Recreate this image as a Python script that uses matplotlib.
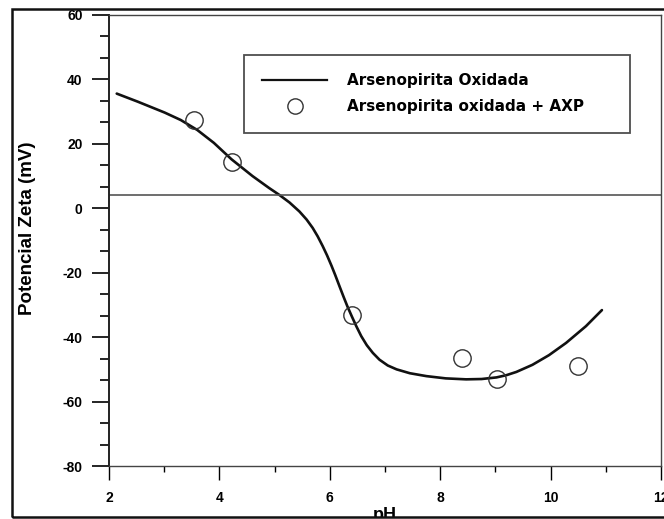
import numpy as np
import matplotlib.pyplot as plt
from matplotlib.lines import Line2D
from matplotlib.patches import Rectangle
from matplotlib.ticker import MultipleLocator

# fitted curve, arsenopirita oxidada (pH, mV)
ph_curve = [2.14, 2.52, 3.01, 3.3, 3.6, 3.9, 4.22, 4.6, 4.9, 5.09, 5.27, 5.45,
            5.58, 5.69, 5.78, 5.87, 5.95, 6.03, 6.1, 6.18, 6.25, 6.32, 6.4,
            6.48, 6.57, 6.67, 6.78, 6.9, 7.05, 7.21, 7.45, 7.75, 8.1, 8.47,
            8.75, 9.02, 9.2, 9.38, 9.67, 9.97, 10.28, 10.64, 10.93]
zeta_curve = [35.6, 33.1, 29.7, 27.4, 24.3, 20.3, 15.2, 10.0, 6.3, 4.1, 1.8, -1.0,
              -3.5, -6.1, -8.7, -11.7, -14.6, -17.8, -20.8, -24.4, -27.5, -30.5, -33.6,
              -36.6, -39.7, -42.5, -44.9, -47.0, -48.8, -50.0, -51.2, -52.1, -52.8, -53.1,
              -53.0, -52.5, -51.8, -50.8, -48.6, -45.6, -41.8, -36.6, -31.6]

# measured points, arsenopirita oxidada + AXP
ph_axp = [3.54, 4.22, 6.41, 8.40, 9.02, 10.5]
zeta_axp = [27.4, 14.4, -33.0, -46.6, -53.1, -49.1]

pzc_line = 4.0

lbl_curve = 'Arsenopirita Oxidada'
lbl_axp = 'Arsenopirita oxidada + AXP'

plt.rcParams['font.family'] = ['Liberation Sans', 'DejaVu Sans']
plt.rcParams['axes.unicode_minus'] = False

fig = plt.figure(figsize=(6.64, 5.19), dpi=100)
ax = fig.add_axes([109/664, 1 - 466/519, 552/664, 451/519])

ax.plot(ph_curve, zeta_curve, color='#111111', lw=1.9, solid_capstyle='round',
        solid_joinstyle='round')
ax.plot(ph_axp, zeta_axp, 'o', ms=12.5, mfc='none', mec='#333333', mew=1.0)
ax.axhline(pzc_line, color='#555555', lw=1.2)

ax.set_xlim(2, 12)
ax.set_ylim(-80, 60)
ax.xaxis.set_major_locator(MultipleLocator(2))
ax.xaxis.set_minor_locator(MultipleLocator(1))
ax.yaxis.set_major_locator(MultipleLocator(20))
ax.yaxis.set_minor_locator(MultipleLocator(20/3))

ax.tick_params(axis='y', which='major', length=12, width=1.2, pad=7, direction='out')
ax.tick_params(axis='y', which='minor', length=6.5, width=1.2, direction='out')
ax.tick_params(axis='x', which='major', length=10, width=1.0, pad=8, direction='out')
ax.tick_params(axis='x', which='minor', length=4.5, width=1.0, direction='out')
for t in ax.get_xticklabels() + ax.get_yticklabels():
    t.set_fontsize(10)
    t.set_fontweight('bold')

for s in ax.spines.values():
    s.set_color('#444444')
    s.set_linewidth(1.0)
ax.spines['left'].set_linewidth(1.4)
ax.spines['left'].set_color('#222222')

handles = [Line2D([], [], color='#111111', lw=1.6),
           Line2D([], [], ls='none', marker='o', ms=11, mfc='none', mec='#333333', mew=1.0)]
leg = ax.legend(handles, [lbl_curve, lbl_axp], loc='upper left',
                bbox_to_anchor=(0.2446, 0.741, 0.699, 0.17), mode='expand',
                frameon=True, fancybox=False,
                handlelength=4.25, handletextpad=1.3, labelspacing=0.72,
                borderpad=1.2, borderaxespad=0,
                prop={'family': 'DejaVu Sans', 'weight': 'bold', 'size': 11})
leg.get_frame().set_edgecolor('#222222')
leg.get_frame().set_linewidth(1.3)

fig.text(28/664, 1 - 228/519, 'Potencial Zeta (mV)', rotation=90,
         ha='center', va='center', fontsize=13.5, fontweight='bold',
         family=['Liberation Sans Narrow', 'Liberation Sans'])
fig.text(385/664, 1 - 507/519, 'pH', ha='center', va='top',
         fontsize=13, fontweight='bold')

# page border around the plot
fig.patches.append(Rectangle((0, 0), 1, 2/519, transform=fig.transFigure,
                             facecolor='white', edgecolor='none', zorder=5))
fig.patches.append(Rectangle((12/664, 2/519), 0.999, 1 - 11/519, transform=fig.transFigure,
                             facecolor='none', edgecolor='#111111', lw=1.8, zorder=6))

fig.savefig('out.png', dpi=100)
